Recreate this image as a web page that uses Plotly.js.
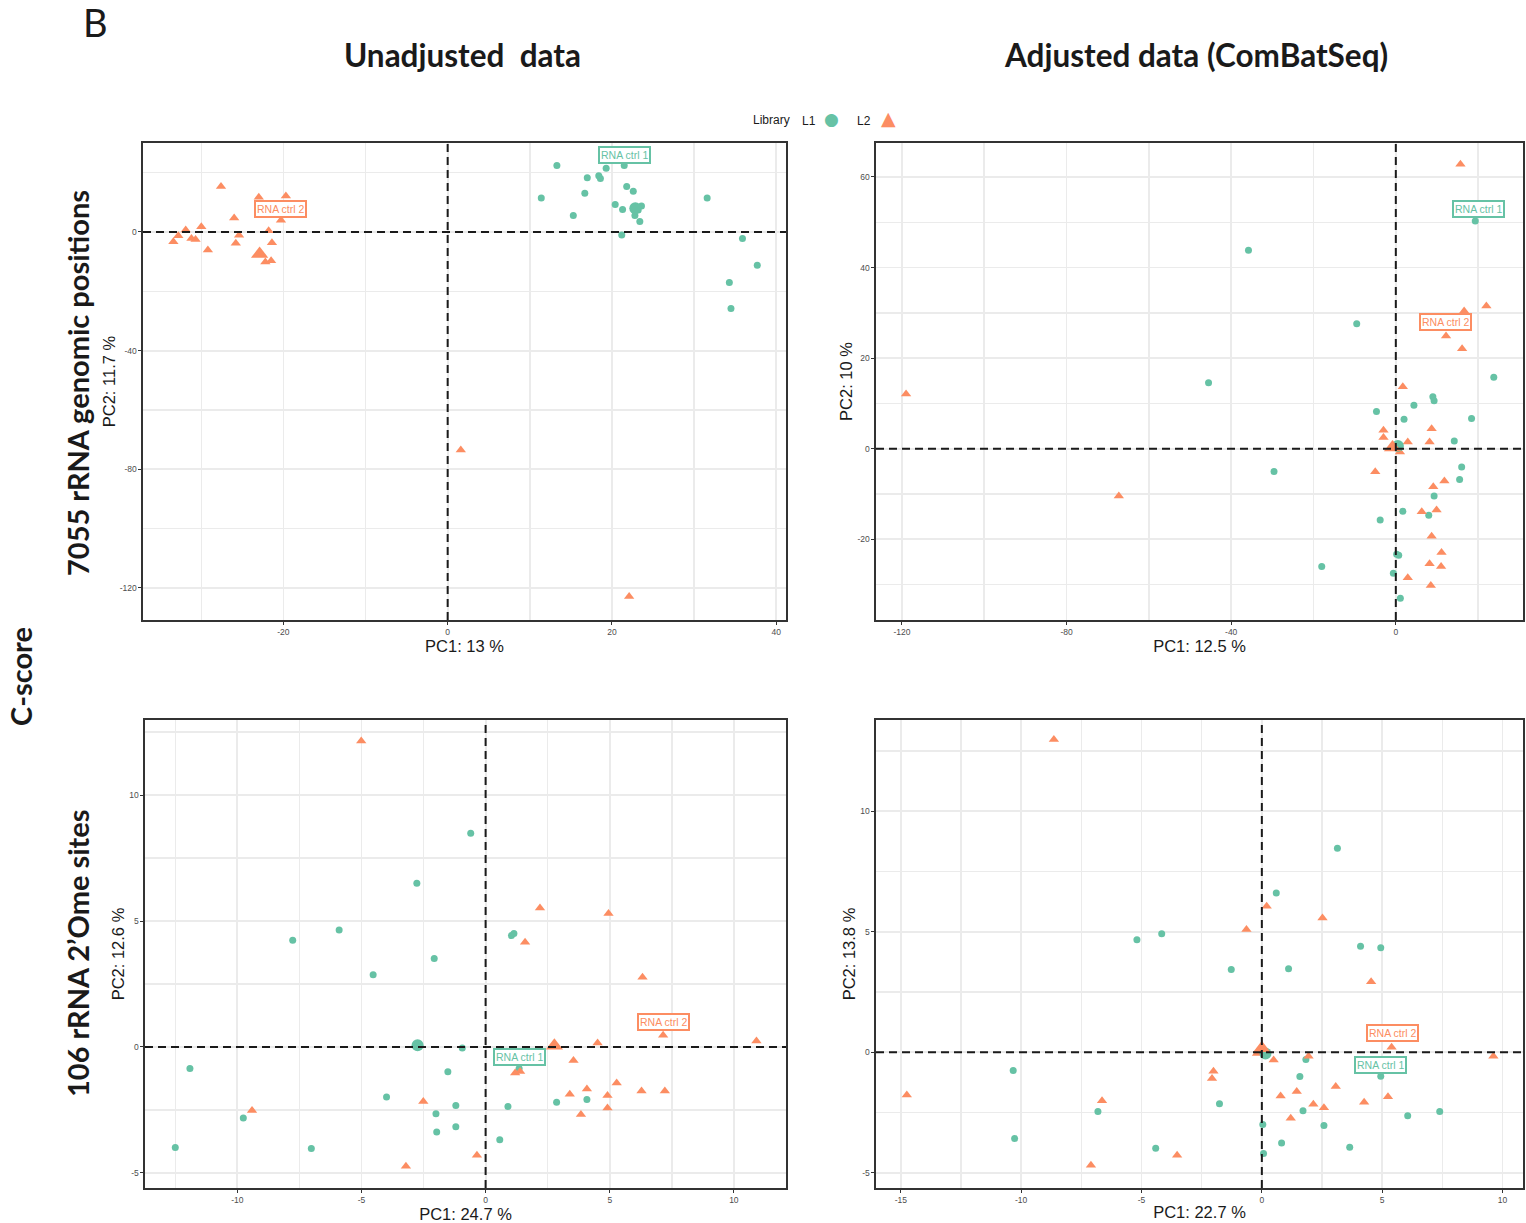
<!DOCTYPE html>
<html>
<head>
<meta charset="utf-8">
<script src="https://cdn.plot.ly/plotly-3.0.1.min.js"></script>
<style>html,body{margin:0;padding:0;background:#fff;}#chart{width:1526px;height:1223px;}</style>
</head>
<body>
<div id="chart"></div>
<script>
// ---------- DATA ----------
const libraries = ["L1", "L2"];
const labelTexts = ["RNA ctrl 1", "RNA ctrl 2"];
const axisTitlesX = ["PC1: 13 %", "PC1: 12.5 %", "PC1: 24.7 %", "PC1: 22.7 %"];
const axisTitlesY = ["PC2: 11.7 %", "PC2: 10 %", "PC2: 12.6 %", "PC2: 13.8 %"];
const columnTitles = ["Unadjusted  data", "Adjusted data (ComBatSeq)"];
const rowTitles = ["7055 rRNA genomic positions", "106 rRNA 2\u2019Ome sites"];

// tick values (labels are written with a plain hyphen, as in the source)
const p1TicksX = [-20, 0, 20, 40];
const p1TicksY = [-120, -80, -40, 0];
const p2TicksX = [-120, -80, -40, 0];
const p2TicksY = [-20, 0, 20, 40, 60];
const p3TicksX = [-10, -5, 0, 5, 10];
const p3TicksY = [-5, 0, 5, 10];
const p4TicksX = [-15, -10, -5, 0, 5, 10];
const p4TicksY = [-5, 0, 5, 10];

// Panel 1: unadjusted, 7055 positions
const p1L1x = [13.3,19.3,21.5,17.0,18.4,18.6,11.4,16.7,21.8,22.6,20.4,21.3,15.3,23.6,23.2,22.8,23.4,21.2,31.6,35.9,37.7,34.3,34.5];
const p1L1y = [22.4,21.5,22.4,18.3,19.0,18.0,11.5,13.1,15.3,13.7,9.3,7.6,5.6,8.8,7.4,5.6,3.5,-1.0,11.5,-2.2,-11.2,-17.0,-25.8];
const p1L2x = [-27.6,-23.0,-19.7,-26.0,-20.3,-31.9,-30.0,-32.8,-33.4,-31.2,-30.7,-29.2,-25.4,-25.8,-21.8,-21.4,-22.2,-21.5,1.6,22.1];
const p1L2y = [15.3,11.7,12.1,4.7,4.0,0.7,1.8,-1.3,-3.3,-2.2,-2.5,-6.1,-1.1,-3.8,0.4,-3.6,-10.1,-9.7,-73.5,-122.9];
const p1L1ctrl = [22.85, 8.0];
const p1L2ctrl = [-22.9, -7.4];
const p1LabelL1 = [21.5, 25.8];
const p1LabelL2 = [-20.4, 7.9];

// Panel 2: adjusted, 7055 positions
const p2L1x = [-35.8,19.3,-9.5,-45.5,23.8,9.0,9.3,4.4,-4.7,2.0,18.4,14.2,0.7,-29.6,16.0,15.5,9.3,1.7,8.0,-3.8,0.2,0.7,-18.0,-0.6,1.1];
const p2L1y = [43.8,50.3,27.6,14.6,15.8,11.5,10.6,9.6,8.2,6.5,6.7,1.7,0.8,-5.0,-4.0,-6.8,-10.4,-13.8,-14.7,-15.7,-23.3,-23.5,-26.0,-27.5,-33.0];
const p2L2x = [15.7,-119.0,-67.3,22.0,16.6,12.2,16.1,1.7,-3.0,-3.0,2.9,8.7,8.2,1.0,-5.0,9.1,11.8,6.3,9.9,8.7,11.1,8.2,11.0,2.9,8.5];
const p2L2y = [62.8,12.1,-10.4,31.5,30.4,24.9,22.1,13.7,4.1,2.5,1.5,4.4,1.5,-0.7,-5.1,-8.4,-7.1,-13.9,-13.5,-19.3,-22.9,-25.4,-26.0,-28.5,-30.2];
const p2L1ctrl = [0.5, 0.6];
const p2L2ctrl = [-0.8, 0.3];
const p2LabelL1 = [20.1, 52.9];
const p2LabelL2 = [12.0, 27.9];

// Panel 3: unadjusted, 106 2'Ome sites
const p3L1x = [-0.60,-2.77,-5.90,-7.77,1.04,1.14,-2.07,-4.53,-0.94,1.35,-11.91,-1.52,-3.99,-1.20,0.90,-2.00,2.86,4.08,-9.76,-1.20,-1.97,0.57,-12.50,-7.02];
const p3L1y = [8.48,6.50,4.64,4.24,4.42,4.50,3.51,2.87,-0.04,-0.86,-0.86,-0.98,-1.99,-2.32,-2.36,-2.65,-2.20,-2.09,-2.82,-3.17,-3.38,-3.68,-3.99,-4.03];
const p3L2x = [-5.01,2.19,4.95,1.59,6.32,7.15,10.91,4.51,3.54,1.19,1.39,5.28,4.08,3.39,4.91,6.28,7.22,4.91,3.84,-2.51,-9.41,-0.35,-3.21];
const p3L2y = [12.15,5.52,5.30,4.16,2.77,0.46,0.24,0.16,-0.54,-1.03,-0.97,-1.43,-1.67,-1.88,-1.93,-1.75,-1.75,-2.42,-2.68,-2.17,-2.52,-4.30,-4.74];
const p3L1ctrl = [-2.74, 0.07];
const p3L2ctrl = [2.77, 0.05];
const p3LabelL1 = [1.35, -0.41];
const p3LabelL2 = [7.17, 1.0];

// Panel 4: adjusted, 106 2'Ome sites
const p4L1x = [3.14,0.60,-5.19,-4.16,4.10,4.94,-1.27,1.11,0.1,1.83,-10.33,1.58,4.94,-1.76,-6.81,1.71,7.39,6.06,0.04,2.58,0.82,-10.27,-4.41,3.65,0.07];
const p4L1y = [8.46,6.60,4.67,4.92,4.40,4.33,3.43,3.46,0.0,-0.30,-0.76,-1.01,-1.00,-2.14,-2.46,-2.43,-2.46,-2.63,-3.00,-3.04,-3.76,-3.58,-3.98,-3.94,-4.20];
const p4L2x = [-8.64,0.20,2.52,-0.64,4.54,5.39,-0.2,0.18,0.49,1.94,9.62,-2.01,-2.07,3.07,1.45,0.78,5.24,-14.75,-6.64,2.14,4.25,2.58,1.20,-3.52,-7.10];
const p4L2y = [12.97,6.06,5.57,5.09,2.92,0.21,-0.05,-0.05,-0.32,-0.17,-0.17,-0.79,-1.09,-1.42,-1.63,-1.81,-1.85,-1.77,-2.01,-2.16,-2.07,-2.30,-2.74,-4.27,-4.69];
const p4L1ctrl = [0.15, -0.05];
const p4L2ctrl = [0.0, 0.17];
const p4LabelL1 = [4.92, -0.51];
const p4LabelL2 = [5.43, 0.79];

// ---------- STYLE ----------
const GREEN = "#66C2A5";
const ORANGE = "#FC8D62";
const W = 1526, H = 1223;

const panels = [
  {L1x:p1L1x,L1y:p1L1y,L2x:p1L2x,L2y:p1L2y,c1:p1L1ctrl,c2:p1L2ctrl,lab1:p1LabelL1,lab2:p1LabelL2,
   tx:p1TicksX, ty:p1TicksY, px:[143,786], py:[143,620], xr:[-37.1,41.2], yr:[30.0,-130.8]},
  {L1x:p2L1x,L1y:p2L1y,L2x:p2L2x,L2y:p2L2y,c1:p2L1ctrl,c2:p2L2ctrl,lab1:p2LabelL1,lab2:p2LabelL2,
   tx:p2TicksX, ty:p2TicksY, px:[876,1523], py:[143,620], xr:[-126.3,30.9], yr:[67.5,-37.8]},
  {L1x:p3L1x,L1y:p3L1y,L2x:p3L2x,L2y:p3L2y,c1:p3L1ctrl,c2:p3L2ctrl,lab1:p3LabelL1,lab2:p3LabelL2,
   tx:p3TicksX, ty:p3TicksY, px:[145,786], py:[720,1188], xr:[-13.72,12.1], yr:[12.98,-5.6]},
  {L1x:p4L1x,L1y:p4L1y,L2x:p4L2x,L2y:p4L2y,c1:p4L1ctrl,c2:p4L2ctrl,lab1:p4LabelL1,lab2:p4LabelL2,
   tx:p4TicksX, ty:p4TicksY, px:[876,1523], py:[720,1188], xr:[-16.03,10.85], yr:[13.78,-5.63]}
];

const traces = [];
const layout = {
  width: W, height: H,
  margin: {l:0, r:0, t:0, b:0},
  paper_bgcolor: "#fff", plot_bgcolor: "#fff",
  showlegend: false,
  font: {family: "Liberation Sans, Arial, sans-serif", color: "#1a1a1a"},
  shapes: [], annotations: []
};

const GRID = "#EBEBEB";
panels.forEach((p, i) => {
  const n = i + 1;
  const xa = "x" + (n === 1 ? "" : n), ya = "y" + (n === 1 ? "" : n);
  const xkey = "xaxis" + (n === 1 ? "" : n), ykey = "yaxis" + (n === 1 ? "" : n);
  const common = {
    showline: true, mirror: true, linecolor: "#333", linewidth: 1.6,
    showgrid: true, gridcolor: GRID, gridwidth: 1.8, zeroline: false,
    ticks: "outside", ticklen: 3, tickcolor: "#333", tickwidth: 1,
    tickfont: {size: 8.5, color: "#4D4D4D", family: "Liberation Sans Narrow, Liberation Sans, Arial"},
    automargin: false, fixedrange: true, tickmode: "array"
  };
  const xStep = p.tx[1] - p.tx[0], yStep = p.ty[1] - p.ty[0];
  layout[xkey] = Object.assign({}, common, {
    domain: [p.px[0]/W, p.px[1]/W], range: [p.xr[0], p.xr[1]], anchor: ya,
    tickvals: p.tx, ticktext: p.tx.map(v => String(v)),
    minor: {showgrid: true, gridcolor: GRID, gridwidth: 1.5, dtick: xStep/2, tick0: 0, ticks: ""},
    title: {text: axisTitlesX[i], font: {size: 16.5, color: "#1a1a1a"}, standoff: 2}
  });
  layout[ykey] = Object.assign({}, common, {
    domain: [1 - p.py[1]/H, 1 - p.py[0]/H], range: [p.yr[1], p.yr[0]], anchor: xa,
    tickvals: p.ty, ticktext: p.ty.map(v => String(v)),
    minor: {showgrid: true, gridcolor: GRID, gridwidth: 1.5, dtick: yStep/2, tick0: 0, ticks: ""},
    title: {text: axisTitlesY[i], font: {size: 16.5, color: "#1a1a1a"}, standoff: 0}
  });
  layout.shapes.push({type:"line", xref:xa, yref:ya+" domain", x0:0, x1:0, y0:0, y1:1,
    line:{color:"#1a1a1a", width:2, dash:"8px,5px"}});
  layout.shapes.push({type:"line", xref:xa+" domain", yref:ya, x0:0, x1:1, y0:0, y1:0,
    line:{color:"#1a1a1a", width:2, dash:"8px,5px"}});

  traces.push({type:"scatter", mode:"markers", x:p.L1x, y:p.L1y, xaxis:xa, yaxis:ya, name:libraries[0],
    marker:{symbol:"circle", size:7, color:GREEN}, hoverinfo:"x+y"});
  traces.push({type:"scatter", mode:"markers", x:p.L2x, y:p.L2y, xaxis:xa, yaxis:ya, name:libraries[1],
    marker:{symbol:"triangle-up", size:9, color:ORANGE}, hoverinfo:"x+y"});
  traces.push({type:"scatter", mode:"markers", x:[p.c1[0]], y:[p.c1[1]], xaxis:xa, yaxis:ya, name:labelTexts[0],
    marker:{symbol:"circle", size:12, color:GREEN}, hoverinfo:"x+y"});
  traces.push({type:"scatter", mode:"markers", x:[p.c2[0]], y:[p.c2[1]], xaxis:xa, yaxis:ya, name:labelTexts[1],
    marker:{symbol:"triangle-up", size:15, color:ORANGE}, hoverinfo:"x+y"});

  const labFont = {size: 10.5, family: "Liberation Sans Narrow, Liberation Sans, Arial"};
  layout.annotations.push({xref:xa, yref:ya, x:p.lab1[0], y:p.lab1[1], text:labelTexts[0], showarrow:false,
    font:Object.assign({color:GREEN}, labFont), bgcolor:"#fff", bordercolor:GREEN, borderwidth:2, borderpad:1});
  layout.annotations.push({xref:xa, yref:ya, x:p.lab2[0], y:p.lab2[1], text:labelTexts[1], showarrow:false,
    font:Object.assign({color:ORANGE}, labFont), bgcolor:"#fff", bordercolor:ORANGE, borderwidth:2, borderpad:1});
});

// headers and side labels
const colFont = {family: "Lato, Open Sans, sans-serif", size: 31.5, color: "#1a1a1a", weight: 700};
const rowFont = {family: "Lato, Open Sans, sans-serif", size: 29, color: "#1a1a1a", weight: 700};
function paperAnn(px, py, text, font, extra) {
  return Object.assign({xref:"paper", yref:"paper", x:px/W, y:1-py/H, text:text, showarrow:false,
    xanchor:"center", yanchor:"middle", font:font}, extra || {});
}
layout.annotations.push(paperAnn(96, 22, "B", {family:"Lato, Liberation Sans, sans-serif", size:38, color:"#1a1a1a"}));
layout.annotations.push(paperAnn(462, 55, "<b>" + columnTitles[0] + "</b>", colFont));
layout.annotations.push(paperAnn(1196, 55, "<b>" + columnTitles[1] + "</b>", colFont));
layout.annotations.push(paperAnn(77, 383, "<b>" + rowTitles[0] + "</b>", rowFont, {textangle:-90}));
layout.annotations.push(paperAnn(77, 953, "<b>" + rowTitles[1] + "</b>", rowFont, {textangle:-90}));
layout.annotations.push(paperAnn(20, 677, "<b>C-score</b>", rowFont, {textangle:-90}));

// legend (manual)
const legFont = {family:"Liberation Sans, Arial", size:12, color:"#1a1a1a"};
layout.annotations.push(paperAnn(771, 120, "Library", legFont));
layout.annotations.push(paperAnn(809, 121, libraries[0], legFont));
layout.annotations.push(paperAnn(831, 119, "\u25CF", {family:"DejaVu Sans", size:17, color:GREEN}));
layout.annotations.push(paperAnn(864, 121, libraries[1], legFont));
layout.annotations.push(paperAnn(889, 118, "\u25B2", {family:"DejaVu Sans", size:19, color:ORANGE}));

Plotly.newPlot("chart", traces, layout, {displayModeBar:false, staticPlot:true});
</script>
</body>
</html>
